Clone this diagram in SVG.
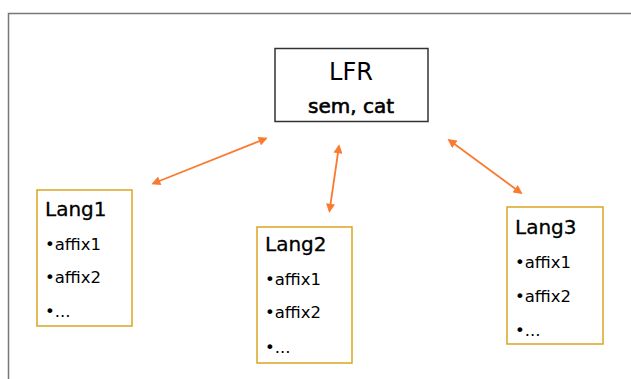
<svg xmlns="http://www.w3.org/2000/svg" width="631" height="379" viewBox="0 0 631 379">
<style>
.frame{fill:none;stroke:#777;stroke-width:1.5}
.lfr{fill:#fff;stroke:#333;stroke-width:1.5}
.lang{fill:#fff;stroke:#DAA520;stroke-width:1.5}
.conn{stroke:#FA7A30;stroke-width:1.8;fill:none;marker-start:url(#ah);marker-end:url(#ah)}
text{font-family:"DejaVu Sans",Verdana,sans-serif;fill:#000}
.title{font-size:24px}
.sub{font-size:20px;stroke:#000;stroke-width:0.6}
.hd{font-size:20px;stroke:#000;stroke-width:0.3}
.it{font-size:16.5px}
</style>
<defs>
<marker id="ah" viewBox="0 0 10 10" refX="8" refY="5" markerWidth="5.5" markerHeight="5" orient="auto-start-reverse" markerUnits="strokeWidth">
<path d="M0,0 L10,5 L0,10 z" fill="#FA7A30"/>
</marker>
</defs>
<rect width="631" height="379" fill="#fff"/>
<path class="frame" d="M8.5,379 V13.5 H631"/>
<g id="connectors">
<line class="conn" x1="153" y1="183.5" x2="266" y2="138.5"/>
<line class="conn" x1="339" y1="146" x2="329.5" y2="211"/>
<line class="conn" x1="449" y1="140" x2="521" y2="193"/>
</g>
<g id="lfr">
<rect class="lfr" x="275" y="48.5" width="153" height="73"/>
<text class="title" x="351" y="80" text-anchor="middle">LFR</text>
<text class="sub" x="351" y="113" text-anchor="middle">sem, cat</text>
</g>
<g id="lang1">
<rect class="lang" x="37" y="190" width="95" height="136"/>
<text class="hd" x="45" y="216">Lang1</text>
<text class="it" x="45" y="250">•affix1</text>
<text class="it" x="45" y="283">•affix2</text>
<text class="it" x="45" y="317">•...</text>
</g>
<g id="lang2">
<rect class="lang" x="257" y="227" width="95" height="136"/>
<text class="hd" x="265" y="251">Lang2</text>
<text class="it" x="265" y="285">•affix1</text>
<text class="it" x="265" y="318">•affix2</text>
<text class="it" x="265" y="353">•...</text>
</g>
<g id="lang3">
<rect class="lang" x="507" y="207" width="96" height="137"/>
<text class="hd" x="515" y="234">Lang3</text>
<text class="it" x="515" y="268">•affix1</text>
<text class="it" x="515" y="302">•affix2</text>
<text class="it" x="515" y="336">•...</text>
</g>
</svg>
